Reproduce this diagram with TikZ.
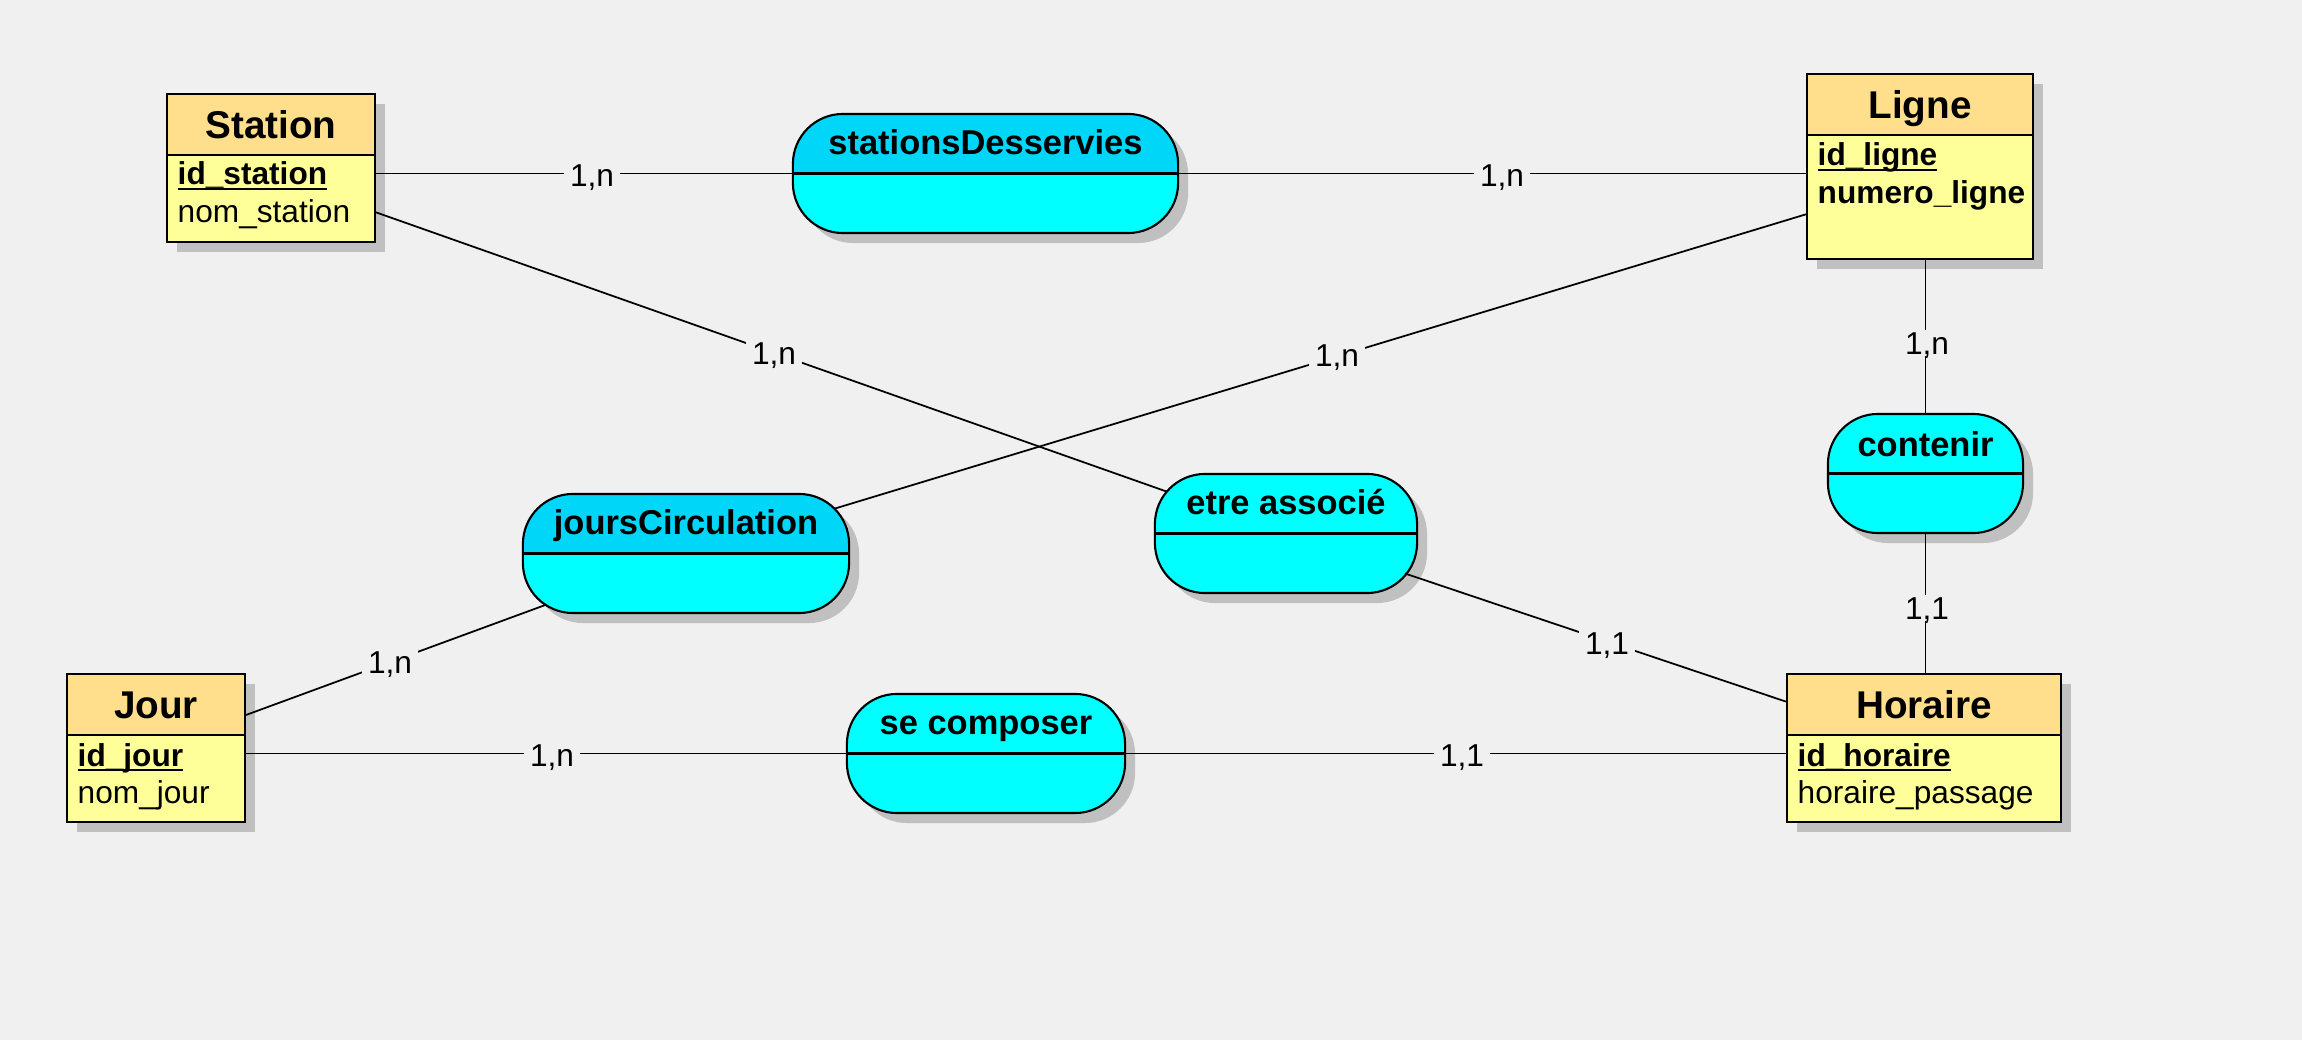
\documentclass[tikz,border=0pt]{standalone}
\usepackage{fontspec}
\setmainfont{Liberation Sans}
\usetikzlibrary{calc,positioning,shadows}
\definecolor{BackColor}{HTML}{F0F0F0}
\definecolor{EntityHead}{HTML}{FFDF8C}
\definecolor{EntityBody}{HTML}{FFFF99}
\definecolor{RelHead}{HTML}{00D6F8}
\definecolor{RelBody}{HTML}{00FFFF}
\definecolor{ShadowColor}{HTML}{C0C0C0}
\newcommand{\pkey}[1]{\setbox0\hbox{#1}\rlap{\rule[-1.5pt]{\wd0}{0.6pt}}\box0}
\tikzstyle{entity_box}=[rectangle,
        draw=black,
        line width=0.6pt,
        fill=EntityBody,
        inner sep=0pt,
        general shadow={fill=ShadowColor, shadow xshift=0.1cm, shadow yshift=-0.1cm}, ]
\tikzstyle{entity_head}=[rectangle,
        draw=black,
        line width=0.6pt,
        fill=EntityHead,
        inner sep=0pt,
        anchor=north,
        minimum height=0.61cm,
        text height=7.9pt, text depth=0pt,
        font=\fontsize{11}{13}\selectfont\bfseries, ]
\tikzstyle{attribute}=[anchor=base west, inner sep=0pt, font=\fontsize{9}{11}\selectfont]
\tikzstyle{key_attribute}=[attribute, font=\fontsize{9}{11}\selectfont\bfseries]
\tikzstyle{relation}=[rectangle,
        rounded corners=0.5cm,
        draw=black,
        line width=0.6pt,
        fill=RelBody,
        inner sep=0pt,
        minimum height=1.19cm,
        general shadow={fill=ShadowColor, shadow xshift=0.1cm, shadow yshift=-0.1cm},
        path picture={\draw[sharp corners, line width=0.6pt] (path picture bounding box.west) -- (path picture bounding box.east);}, ]
\tikzstyle{relation_dark}=[relation,
        path picture={\fill[RelHead, sharp corners] (path picture bounding box.north west) rectangle (path picture bounding box.east);
                      \draw[sharp corners, line width=0.6pt] (path picture bounding box.west) -- (path picture bounding box.east);}, ]
\tikzstyle{relation_name}=[anchor=base, inner sep=0pt, font=\fontsize{9.8}{12}\selectfont\bfseries]
\tikzstyle{link}=[line width=0.5pt, draw=black]
\tikzstyle{card}=[fill=BackColor, inner xsep=0.06cm, inner ysep=0.02cm,
        text height=6.5pt, text depth=0pt, font=\fontsize{9}{11}\selectfont]

\begin{document}
\begin{tikzpicture}[x=0.01cm, y=-0.01cm]
    \fill[BackColor] (0,0) rectangle (2302,1040);
    \useasboundingbox (0,0) rectangle (2302,1040);

    % entities
    \node at (271,168) (station) [entity_box, minimum width=2.08cm, minimum height=1.48cm] {};
    \node at (station.north) (station-head) [entity_head, minimum width=2.08cm] {Station};
    \node at (177,185) (id-station) [key_attribute] {\pkey{id\_station}};
    \node at (177,223) (nom-station) [attribute] {nom\_station};

    \node at (1920,166.5) (ligne) [entity_box, minimum width=2.26cm, minimum height=1.85cm] {};
    \node at (ligne.north) (ligne-head) [entity_head, minimum width=2.26cm] {Ligne};
    \node at (1817,166) (id-ligne) [key_attribute] {\pkey{id\_ligne}};
    \node at (1817,204) (numero-ligne) [key_attribute] {numero\_ligne};

    \node at (156,748) (jour) [entity_box, minimum width=1.78cm, minimum height=1.48cm] {};
    \node at (jour.north) (jour-head) [entity_head, minimum width=1.78cm] {Jour};
    \node at (77,766) (id-jour) [key_attribute] {\pkey{id\_jour}};
    \node at (77,804) (nom-jour) [attribute] {nom\_jour};

    \node at (1924,748) (horaire) [entity_box, minimum width=2.74cm, minimum height=1.48cm] {};
    \node at (horaire.north) (horaire-head) [entity_head, minimum width=2.74cm] {Horaire};
    \node at (1797,766) (id-horaire) [key_attribute] {\pkey{id\_horaire}};
    \node at (1797,804) (passage-horaire) [attribute] {horaire\_passage};

    % associations
    \node at (985.5,173.5) (desservies) [relation_dark, minimum width=3.85cm] {};
    \node at ([yshift=0.185cm]desservies.center) (desservies-name) [relation_name] {stationsDesservies};

    \node at (686,553.5) (circulation) [relation_dark, minimum width=3.26cm] {};
    \node at ([yshift=0.185cm]circulation.center) (circulation-name) [relation_name] {joursCirculation};

    \node at (1286,533.5) (associe) [relation, minimum width=2.62cm] {};
    \node at ([yshift=0.185cm]associe.center) (associe-name) [relation_name] {etre associé};

    \node at (1925.5,473.5) (contenir) [relation, minimum width=1.95cm] {};
    \node at ([yshift=0.165cm]contenir.center) (contenir-name) [relation_name] {contenir};

    \node at (986,753.5) (composer) [relation, minimum width=2.78cm] {};
    \node at ([yshift=0.185cm]composer.center) (composer-name) [relation_name] {se composer};

    % links
    \coordinate (station-out) at (375,212);
    \coordinate (ligne-out) at (1807,214);
    \draw[link] (station.east |- desservies) -- (desservies);
    \draw[link] (desservies) -- (ligne.west |- desservies);
    \draw[link, shorten >=-0.14cm] (station-out) -- (associe);
    \draw[link, shorten >=-0.17cm] (ligne-out) -- (circulation);
    \draw[link, shorten >=-0.26cm] (jour) -- (circulation);
    \draw[link, shorten <=-0.14cm] (associe) -- (horaire);
    \draw[link] (jour.east |- composer) -- (composer);
    \draw[link] (composer) -- (horaire.west |- composer);
    \draw[link] (contenir |- ligne.south) -- (contenir);
    \draw[link] (contenir) -- (contenir |- horaire.north);

    % cardinalities
    \node at (592,175) (c1) [card] {1,n};
    \node at (1502,175) (c2) [card] {1,n};
    \node at (774,353) (c3) [card] {1,n};
    \node at (1337,355) (c4) [card] {1,n};
    \node at (1927,343) (c5) [card] {1,n};
    \node at (1927,608) (c6) [card] {1,1};
    \node at (1607,643) (c7) [card] {1,1};
    \node at (390,662) (c8) [card] {1,n};
    \node at (552,755) (c9) [card] {1,n};
    \node at (1462,755) (c10) [card] {1,1};
\end{tikzpicture}
\end{document}
